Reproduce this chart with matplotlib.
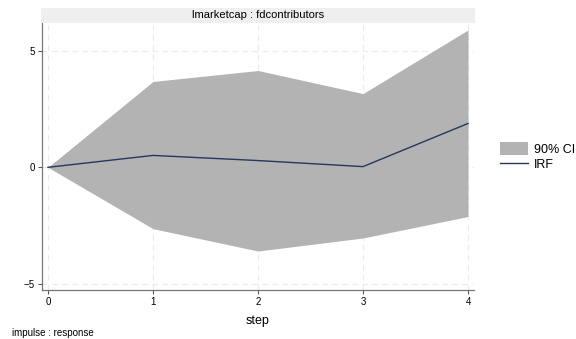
import matplotlib.pyplot as plt
from matplotlib.patches import Patch, Rectangle
from matplotlib.lines import Line2D

plt.rcParams['font.family'] = ['Liberation Sans', 'DejaVu Sans']

steps = [0, 1, 2, 3, 4]
irf = [0.0, 0.51, 0.29, 0.03, 1.88]
ci_lower = [0.0, -2.63, -3.59, -3.03, -2.11]
ci_upper = [0.0, 3.68, 4.15, 3.16, 5.89]
yticks = [-5, 0, 5]
panel_title = "lmarketcap : fdcontributors"
note = "impulse : response"

fig = plt.figure(figsize=(5.76, 3.39), dpi=100)
ax = fig.add_axes([42 / 576, 1 - 290 / 339, (474 - 42) / 576, (290 - 22.7) / 339])

ax.fill_between(steps, ci_lower, ci_upper, color='#b3b3b3', linewidth=0, zorder=2)
ax.plot(steps, irf, color='#26375e', linewidth=1.0, zorder=3)

ax.set_xlim(-0.057, 4.057)
ax.set_ylim(-5.26, 6.2)
ax.set_xticks(steps)
ax.set_yticks(yticks)
ax.tick_params(axis='both', labelsize=7, length=3, width=0.8, color='#555555', pad=2)
ax.grid(True, linestyle=(0, (5, 4)), color='#ebebeb', linewidth=0.8, zorder=0)
for side in ['top', 'right']:
    ax.spines[side].set_visible(False)
for side in ['left', 'bottom']:
    ax.spines[side].set_color('#777777')
    ax.spines[side].set_linewidth(0.9)
ax.set_xlabel('step', fontsize=9, labelpad=6)

# title strip above the panel
strip = Rectangle((41 / 576, 1 - 22.7 / 339), (475 - 41) / 576, 15 / 339,
                  transform=fig.transFigure, facecolor='#efefef', edgecolor='none')
fig.patches.append(strip)
fig.text(258 / 576, 1 - 15.2 / 339, panel_title, ha='center', va='center', fontsize=8)

handles = [Patch(facecolor='#b3b3b3', edgecolor='none'),
           Line2D([0], [0], color='#26375e', linewidth=1.0)]
fig.legend(handles, ['90% CI', 'IRF'], loc='upper left', bbox_to_anchor=(495 / 576, 1 - 137 / 339),
           frameon=False, fontsize=9, handlelength=2.2, handleheight=1.2, labelspacing=0.15,
           handletextpad=0.5, borderaxespad=0)

fig.text(12 / 576, 1 - 333 / 339, note, ha='left', va='center', fontsize=7)

fig.savefig('out.png', dpi=100)
